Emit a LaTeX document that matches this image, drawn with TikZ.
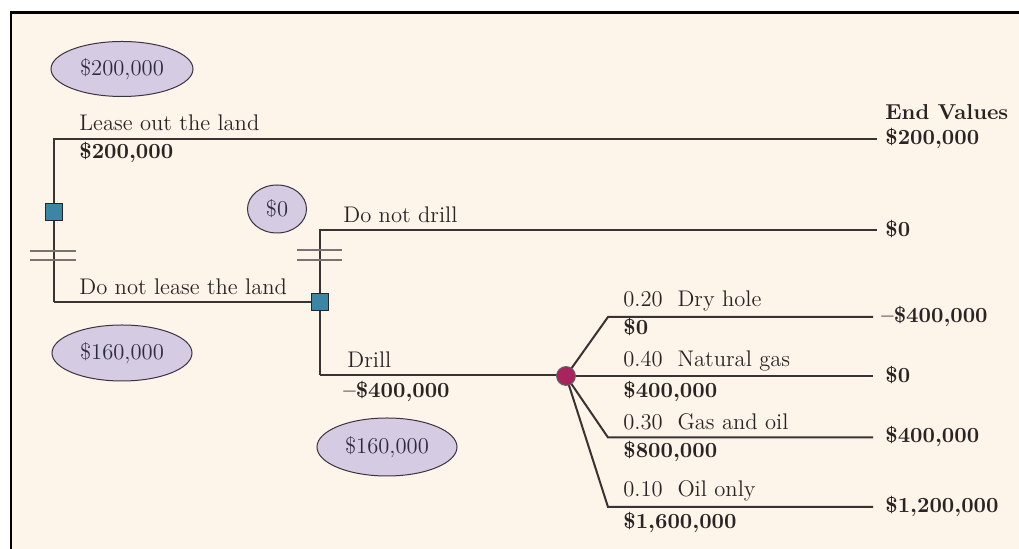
\documentclass[tikz,border=0pt]{standalone}
\usetikzlibrary{shapes.geometric}
\definecolor{bgc}{HTML}{FDF4EA}
\definecolor{linec}{HTML}{3A3333}
\definecolor{textc}{HTML}{2A2424}
\definecolor{ellf}{HTML}{D5CCE4}
\definecolor{ellc}{HTML}{3A3340}
\definecolor{elltext}{HTML}{2E2A40}
\definecolor{decf}{HTML}{3A86A4}
\definecolor{chf}{HTML}{A8245F}
\definecolor{barc}{HTML}{7A7373}
\newcommand\dtfs{\fontsize{11.3}{13}\selectfont}
\newcommand\dtbfs{\fontsize{10.8}{13}\selectfont\bfseries}
\begin{document}
\begin{tikzpicture}[x=0.5pt,y=-0.5pt,
  line/.style={draw=linec, line width=1pt},
  bar/.style={draw=barc, line width=0.8pt},
  lbl/.style={anchor=base west, inner sep=0pt, text=textc, font=\dtfs},
  blbl/.style={anchor=base west, inner sep=0pt, text=textc, font=\dtbfs},
  val/.style={ellipse, draw=ellc, fill=ellf, line width=0.5pt, inner sep=0pt, font=\dtfs, text=elltext},
  dec/.style={rectangle, draw=black!85, fill=decf, minimum size=8.5pt, inner sep=0pt, line width=0.6pt},
  chance/.style={circle, draw=black!60, fill=chf, minimum size=9.5pt, inner sep=0pt, line width=0.4pt}]
\useasboundingbox (0,0) rectangle (1019,549);
\fill[white] (0,0) rectangle (1019,549);
\fill[bgc] (11,12.5) rectangle (1019,549);
\draw[black, line width=1.5pt] (10,12.5) -- (1019,12.5);
\draw[black, line width=1pt] (11,11) -- (11,549);

% coordinates
\coordinate (lt) at (54,139);
\coordinate (lb) at (54,302);
\coordinate (e1) at (877,139);
\coordinate (dt) at (320,230);
\coordinate (e2) at (877,230);
\coordinate (db) at (320,375.5);
\coordinate (k1) at (608,317);
\coordinate (e3) at (873,317);
\coordinate (e4) at (873,376);
\coordinate (k3) at (608,437.5);
\coordinate (e5) at (873,437.5);
\coordinate (k4) at (608,507);
\coordinate (e6) at (873,507);

% connectors
\draw[line] (lb) -- (lt) -- (e1);
\draw[line] (lb) -- (320,302);
\draw[line] (db) -- (dt) -- (e2);
\draw[line] (db) -- (566,375.5);
\draw[line] (566,376) -- (k1) -- (e3);
\draw[line] (566,376) -- (e4);
\draw[line] (566,376) -- (k3) -- (e5);
\draw[line] (566,376) -- (k4) -- (e6);

% bars
\draw[bar] (30,251) -- (76,251);
\draw[bar] (30,260) -- (76,260);
\draw[bar] (297,250) -- (342,250);
\draw[bar] (297,260) -- (342,260);

% nodes
\node[dec] (d1) at (54,212) {};
\node[dec] (d2) at (320,302) {};
\node[chance] (c1) at (566,376) {};

% value ellipses
\node[val, minimum width=71pt, minimum height=27.5pt] (v1) at (122,69) {\$200,000};
\node[val, minimum width=29.5pt, minimum height=24pt] (v2) at (277,209) {\$0};
\node[val, minimum width=70pt, minimum height=28pt] (v3) at (122,353) {\$160,000};
\node[val, minimum width=70pt, minimum height=29pt] (v4) at (387,447) {\$160,000};

% branch labels
\node[lbl] (t1) at (79,131) {Lease out the land};
\node[blbl] (t2) at (79,159) {\$200,000};
\node[lbl] (t3) at (79,295) {Do not lease the land};
\node[lbl] (t4) at (343,222.5) {Do not drill};
\node[lbl] (t5) at (347,368) {Drill};
\node[blbl] (t6) at (343,398) {\textendash\$400,000};

\node[lbl] (p1) at (623,306.5) {0.20\ \ Dry hole};
\node[blbl] (q1) at (623,335) {\$0};
\node[lbl] (p2) at (623,366.5) {0.40\ \ Natural gas};
\node[blbl] (q2) at (623,398) {\$400,000};
\node[lbl] (p3) at (623,430) {0.30\ \ Gas and oil};
\node[blbl] (q3) at (623,458) {\$800,000};
\node[lbl] (p4) at (623,496.5) {0.10\ \ Oil only};
\node[blbl] (q4) at (623,529) {\$1,600,000};

% end values
\node[blbl] (h) at (885,120) {End Values};
\node[blbl] (r1) at (885,145) {\$200,000};
\node[blbl] (r2) at (885,236.5) {\$0};
\node[blbl] (r3) at (881,323) {\textendash\$400,000};
\node[blbl] (r4) at (885,382.5) {\$0};
\node[blbl] (r5) at (885,443) {\$400,000};
\node[blbl] (r6) at (885,513) {\$1,200,000};
\end{tikzpicture}
\end{document}
